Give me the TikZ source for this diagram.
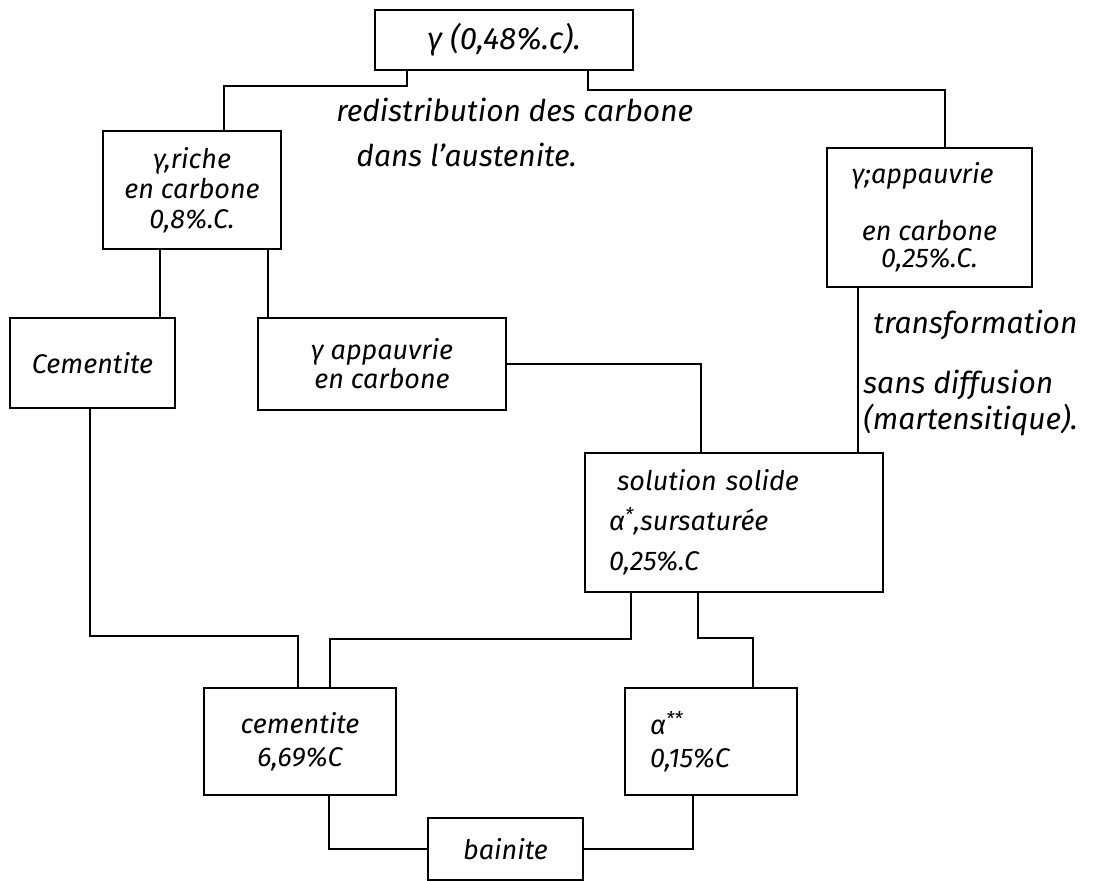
\documentclass[tikz,border=0pt]{standalone}
\usepackage{fontspec}
\setmainfont{Fira Sans}
\begin{document}
\begin{tikzpicture}[x=1pt,y=-1pt, line width=2.8pt,
  box/.style={draw, rectangle, inner sep=0pt, align=center,
    font=\fontsize{27}{33}\selectfont\itshape},
  lbl/.style={anchor=west, inner sep=0pt, font=\fontsize{30}{34}\selectfont\itshape},
  conn/.style={line join=miter}]
\useasboundingbox (0,0) rectangle (1120,881);
\fill[white] (0,0) rectangle (1120,881);

\node[box, minimum width=258pt, minimum height=60pt, font=\fontsize{31}{34}\selectfont\itshape] (top) at (504,40) {γ (0,48\%.c).};
\node[box, minimum width=178pt, minimum height=118pt] (riche) at (192,190) {γ,riche\\[-3pt]en carbone\\[-3pt]0,8\%.C.};
\node[box, minimum width=205pt, minimum height=139pt] (gright) at (929.5,217.5) {\hspace*{-14pt}γ;appauvrie\\[24pt]en carbone\\[-6pt]0,25\%.C.};
\node[box, minimum width=165pt, minimum height=90pt] (cem) at (92.5,363) {Cementite};
\node[box, minimum width=248pt, minimum height=92pt] (gapp) at (382,364) {γ appauvrie\\[-4pt]en carbone};
\node[box, align=left, text width=250pt, minimum width=298pt, minimum height=139pt] (sol) at (734,522.5) {\hspace*{8pt}solution solide\\[7pt]α\textsuperscript{*},sursaturée\\[7pt]0,25\%.C};
\node[box, minimum width=192pt, minimum height=107pt] (cem2) at (300,741.5) {cementite\\6,69\%C};
\node[box, align=left, text width=122pt, minimum width=172pt, minimum height=107pt] (alpha) at (711,741.5) {α\textsuperscript{**}\\0,15\%C};
\node[box, minimum width=155pt, minimum height=62pt] (bainite) at (505.5,849) {bainite};

\node[lbl] (l1) at (335,110) {redistribution des carbone};
\node[lbl] (l2) at (355,155) {dans l'austenite.};
\node[lbl] (l3) at (872,325) {transformation};
\node[lbl] (l4) at (862,385) {sans diffusion};
\node[lbl] (l5) at (862,420) {(martensitique).};

\draw[conn] (407,0 |- top.south) -- (407,86) -- (224,86) -- (224,0 |- riche.north);
\draw[conn] (588,0 |- top.south) -- (588,90) -- (945,90) -- (945,0 |- gright.north);
\draw[conn] (160,0 |- riche.south) -- (160,0 |- cem.north);
\draw[conn] (268,0 |- riche.south) -- (268,0 |- gapp.north);
\draw[conn] (gapp.east) -- (701,0 |- gapp.east) -- (701,0 |- sol.north);
\draw[conn] (858,0 |- gright.south) -- (858,0 |- sol.north);
\draw[conn] (90,0 |- cem.south) -- (90,636) -- (298,636) -- (298,0 |- cem2.north);
\draw[conn] (631,0 |- sol.south) -- (631,639) -- (330,639) -- (330,0 |- cem2.north);
\draw[conn] (698,0 |- sol.south) -- (698,638) -- (753,638) -- (753,0 |- alpha.north);
\draw[conn] (329,0 |- cem2.south) -- (329,0 |- bainite.west) -- (bainite.west);
\draw[conn] (693,0 |- alpha.south) -- (693,0 |- bainite.east) -- (bainite.east);
\end{tikzpicture}
\end{document}
